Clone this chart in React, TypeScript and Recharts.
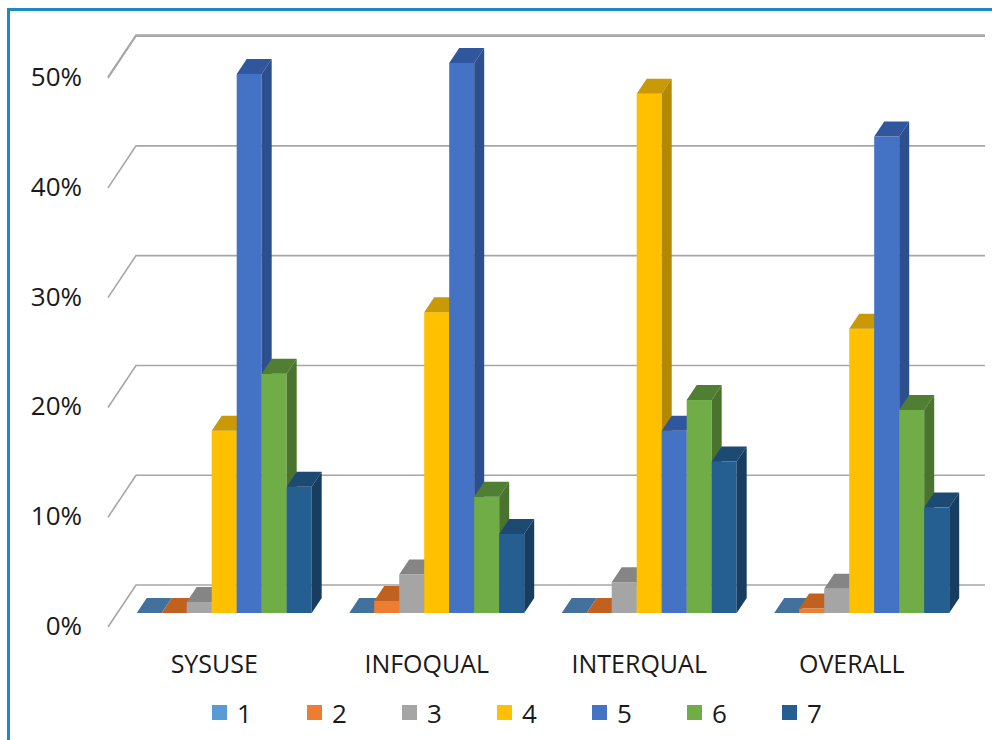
import React from "react";
import { BarChart, Bar, XAxis, YAxis, CartesianGrid, Legend } from "recharts";

const categories = ["SYSUSE", "INFOQUAL", "INTERQUAL", "OVERALL"];
const series1 = [0, 0, 0, 0];
const series2 = [0, 0.011, 0, 0.004];
const series3 = [0.01, 0.035, 0.028, 0.022];
const series4 = [0.166, 0.274, 0.473, 0.259];
const series5 = [0.491, 0.501, 0.166, 0.434];
const series6 = [0.218, 0.106, 0.194, 0.185];
const series7 = [0.115, 0.072, 0.138, 0.096];
const yTicks = [0, 0.1, 0.2, 0.3, 0.4, 0.5];

// front / top / side shades per series
const palette = [
  { key: "1", front: "#4a7fb5", top: "#41719c", side: "#35608a", legend: "#5b9bd5" },
  { key: "2", front: "#ed7d31", top: "#c0611f", side: "#ae5719", legend: "#ed7d31" },
  { key: "3", front: "#a5a5a5", top: "#858585", side: "#7a7a7a", legend: "#a5a5a5" },
  { key: "4", front: "#ffc000", top: "#c99a06", side: "#b48800", legend: "#ffc000" },
  { key: "5", front: "#4472c4", top: "#30579d", side: "#2e4f8e", legend: "#4472c4" },
  { key: "6", front: "#70ad47", top: "#507e32", side: "#4a742e", legend: "#70ad47" },
  { key: "7", front: "#255e91", top: "#1d4a73", side: "#173e61", legend: "#255e91" },
];
const allSeries = [series1, series2, series3, series4, series5, series6, series7];

const data = categories.map((name, i) => {
  const row: Record<string, string | number> = { name };
  palette.forEach((p, s) => {
    row[p.key] = allSeries[s][i];
  });
  return row;
});

const DX = 10;
const DY = -15;
const FONT = "'Open Sans', sans-serif";

function Box(props: any) {
  const { x, y, width: w, height: h, c } = props;
  if (x == null || y == null) return null;
  const hh = Math.max(0, h || 0);
  return (
    <g>
      <rect x={x} y={y} width={w} height={hh} fill={c.front} />
      <polygon
        points={`${x},${y} ${x + DX},${y + DY} ${x + w + DX},${y + DY} ${x + w},${y}`}
        fill={c.top}
      />
      <polygon
        points={`${x + w},${y} ${x + w + DX},${y + DY} ${x + w + DX},${y + hh + DY} ${x + w},${y + hh}`}
        fill={c.side}
      />
    </g>
  );
}

function GridLine(props: any) {
  const { x1, x2, y1 } = props;
  return (
    <polyline
      key={props.key}
      points={`${x1 - 10},${y1 + 14} ${x1 + 18},${y1 - 28} ${x2 + 17},${y1 - 28}`}
      fill="none"
      stroke="#a6a6a6"
      strokeWidth={1.6}
    />
  );
}

function YTick(props: any) {
  const { y, payload } = props;
  return (
    <text x={82} y={y + 12} textAnchor="end" dominantBaseline="central" fontSize={26} fontFamily={FONT} fill="#1a1a1a">
      {`${Math.round(payload.value * 100)}%`}
    </text>
  );
}

function XTick(props: any) {
  const { x, y, payload } = props;
  return (
    <text x={x - 10} y={y + 42} textAnchor="middle" dominantBaseline="central" fontSize={25} fontFamily={FONT} fill="#1a1a1a">
      {payload.value}
    </text>
  );
}

function LegendContent() {
  return (
    <div style={{ display: "flex", paddingLeft: 212, fontFamily: FONT, fontSize: 26, color: "#1a1a1a", height: 35, alignItems: "center" }}>
      {palette.map((p) => (
        <div key={p.key} style={{ width: 95, display: "flex", alignItems: "center" }}>
          <span style={{ display: "inline-block", width: 15, height: 15, background: p.legend, marginRight: 10 }} />
          <span>{p.key}</span>
        </div>
      ))}
    </div>
  );
}

export default function App() {
  return (
    <div style={{ position: "absolute", left: 0, top: 0, width: 992, height: 740, overflow: "hidden", background: "#fff" }}>
      <div
        style={{
          position: "absolute",
          left: 7,
          top: 8,
          width: 1100,
          height: 900,
          borderTop: "3px solid #1b8bc8",
          borderLeft: "3px solid #1b8bc8",
        }}
      />
      <div style={{ position: "absolute", left: 0, top: 0 }}>
        <BarChart
          width={992}
          height={740}
          data={data}
          margin={{ top: 63, right: 24, left: 0, bottom: 10 }}
          barCategoryGap="8.8%"
          barGap={0}
        >
          <CartesianGrid vertical={false} horizontal={GridLine} />
          <XAxis dataKey="name" axisLine={false} tickLine={false} height={82} tick={XTick} interval={0} />
          <YAxis
            domain={[0, 0.5]}
            ticks={yTicks}
            width={118}
            axisLine={false}
            tickLine={false}
            tick={YTick}
          />
          <Legend verticalAlign="bottom" height={35} content={LegendContent} wrapperStyle={{ left: 0, width: 992 }} />
          {palette.map((p) => (
            <Bar
              key={p.key}
              dataKey={p.key}
              fill={p.front}
              isAnimationActive={false}
              shape={(bp: any) => <Box {...bp} c={p} />}
            />
          ))}
        </BarChart>
      </div>
    </div>
  );
}
